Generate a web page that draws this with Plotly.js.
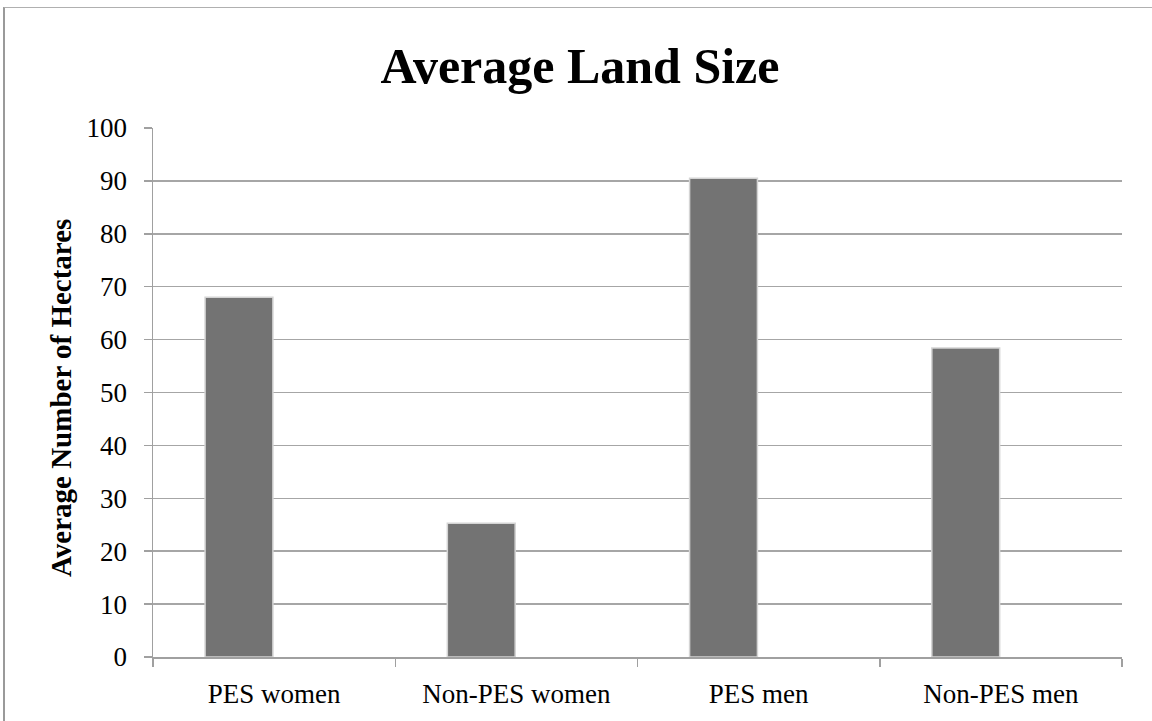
<!DOCTYPE html>
<html>
<head>
<meta charset="utf-8">
<script src="https://cdn.plot.ly/plotly-3.0.1.min.js"></script>
<style>
  html, body { margin: 0; padding: 0; background: #fff; }
  #wrap { position: relative; width: 1152px; height: 721px; }
  #chart { width: 1152px; height: 721px; }
  #frame { position: absolute; left: 3px; top: 7px; width: 1149px; height: 714px;
           border-left: 2px solid #9a9a9a; border-top: 1px solid #b0b0b0; box-sizing: border-box; pointer-events: none; }
</style>
</head>
<body>
<div id="wrap">
  <div id="chart"></div>
  <div id="frame"></div>
</div>
<script>
const categories = ["PES women", "Non-PES women", "PES men", "Non-PES men"];
const values = [68, 25.3, 90.5, 58.4];
const yTicks = [0, 10, 20, 30, 40, 50, 60, 70, 80, 90, 100];
const chartTitle = "Average Land Size";
const yTitle = "Average Number of Hectares";

const serif = "Liberation Serif, DejaVu Serif, serif";

const trace = {
  type: "bar",
  x: categories,
  y: values,
  width: 0.28,
  offset: -0.285,
  marker: { color: "#737373", line: { color: "#d4d4d4", width: 1.5 } },
  hoverinfo: "x+y"
};

const layout = {
  width: 1152,
  height: 721,
  margin: { l: 153, r: 30, t: 128, b: 64 },
  paper_bgcolor: "#ffffff",
  plot_bgcolor: "#ffffff",
  showlegend: false,
  title: {
    text: "<b>" + chartTitle + "</b>",
    font: { family: serif, size: 50, color: "#000" },
    x: 580 / 1152, xref: "container", xanchor: "center",
    y: 1 - 65 / 721, yref: "container", yanchor: "middle"
  },
  xaxis: {
    type: "category",
    tickson: "boundaries",
    ticks: "outside",
    ticklen: 8,
    tickwidth: 1.5,
    tickcolor: "#a0a0a0",
    showline: true,
    linecolor: "#a0a0a0",
    linewidth: 1.5,
    showgrid: false,
    tickfont: { family: serif, size: 27, color: "#000" },
    ticklabelstandoff: 12
  },
  yaxis: {
    range: [0, 100],
    tickvals: yTicks,
    ticktext: yTicks.map(String),
    ticks: "outside",
    ticklen: 8,
    tickwidth: 1.5,
    tickcolor: "#a0a0a0",
    showline: true,
    linecolor: "#a0a0a0",
    linewidth: 1.5,
    showgrid: true,
    gridcolor: "#a6a6a6",
    gridwidth: 1.5,
    zeroline: false,
    tickfont: { family: serif, size: 27, color: "#000" },
    ticklabelstandoff: 11
  },
  annotations: [{
    text: "<b>" + yTitle + "</b>",
    textangle: -90,
    xref: "paper", yref: "paper",
    x: (61 - 153) / 969, y: (657 - 398) / 529,
    xanchor: "center", yanchor: "middle",
    showarrow: false,
    font: { family: serif, size: 29, color: "#000" }
  }],
  bargap: 0
};

Plotly.newPlot("chart", [trace], layout, { displayModeBar: false, staticPlot: true });
</script>
</body>
</html>
